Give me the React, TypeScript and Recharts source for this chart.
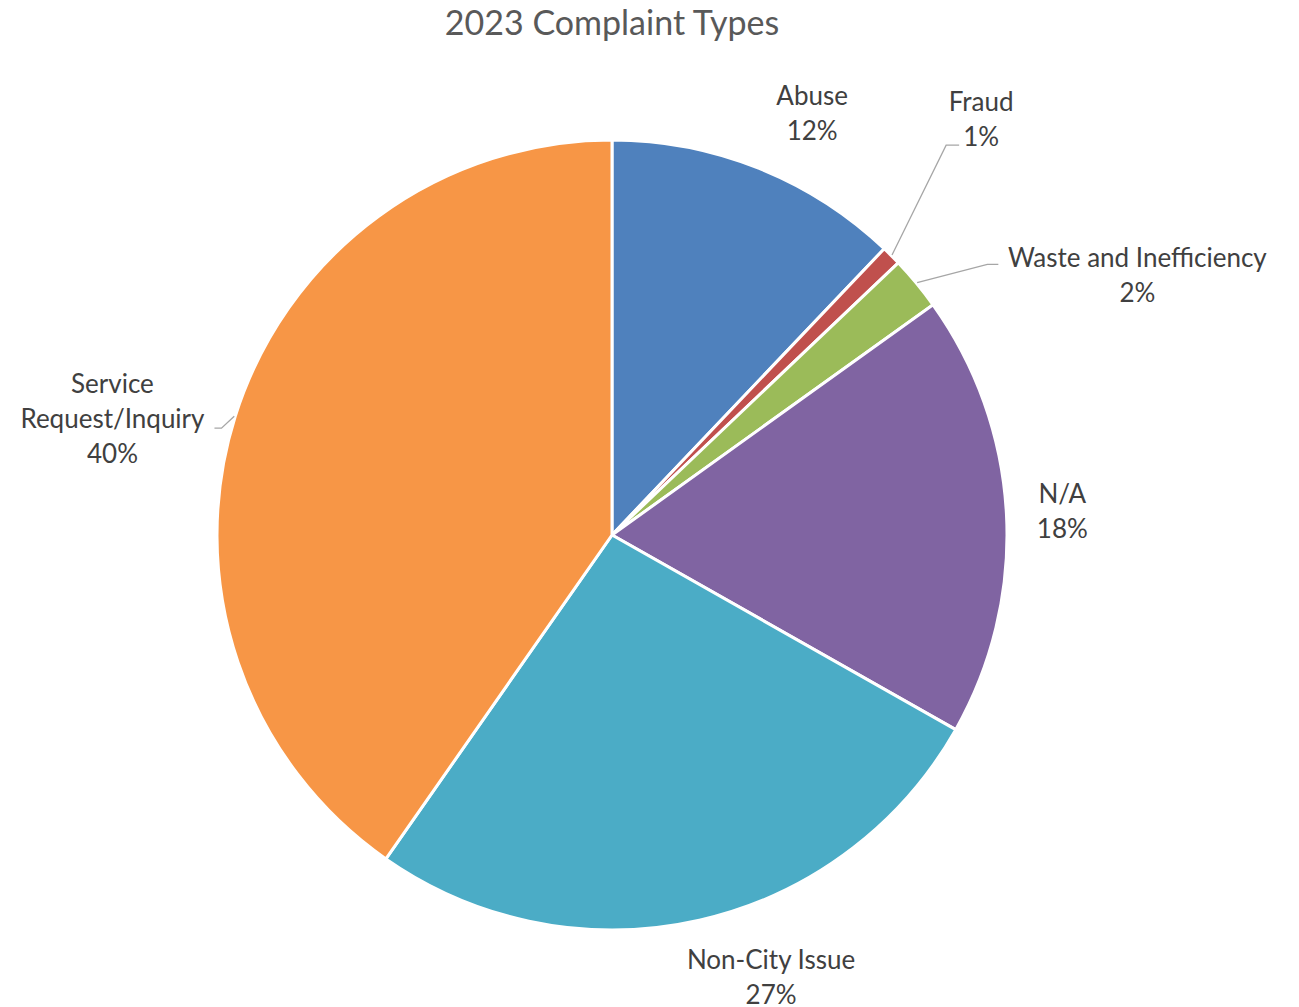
import React from "react"
import { PieChart, Pie, Cell } from "recharts"

const categories = [
  "Abuse",
  "Fraud",
  "Waste and Inefficiency",
  "N/A",
  "Non-City Issue",
  "Service Request/Inquiry",
]
const shares = [12.1, 0.8, 2.2, 18.1, 26.5, 40.3]
const percentLabels = ["12%", "1%", "2%", "18%", "27%", "40%"]
const labelLines = [
  ["Abuse"],
  ["Fraud"],
  ["Waste and Inefficiency"],
  ["N/A"],
  ["Non-City Issue"],
  ["Service", "Request/Inquiry"],
]
const sliceColors = ["#4F81BD", "#C0504D", "#9BBB59", "#8064A2", "#4BACC6", "#F79646"]

const data = categories.map((name, i) => ({
  name,
  value: shares[i],
  pct: percentLabels[i],
  lines: labelLines[i],
}))

// where each data label sits: angle shift (deg, clockwise) and distance past the rim
const labelLayout: Record<string, { shift: number; extra: number; leader?: { dx: number; dy: number; elbow: number } }> = {
  "Abuse": { shift: 3.6, extra: 72 },
  "Fraud": { shift: -3.4, extra: 161, leader: { dx: -22, dy: 26, elbow: -13 } },
  "Waste and Inefficiency": { shift: 13.3, extra: 191, leader: { dx: -139, dy: -11, elbow: -11 } },
  "N/A": { shift: 0, extra: 56 },
  "Non-City Issue": { shift: -7, extra: 75 },
  "Service Request/Inquiry": { shift: -4.3, extra: 118, leader: { dx: 102, dy: 10, elbow: 7 } },
}

const RADIAN = Math.PI / 180
const LINE_GAP = 35

const renderLabel = (props: any) => {
  const { cx, cy, midAngle, outerRadius, index } = props
  const item = data[index]
  const layout = labelLayout[item.name]
  const a = (midAngle - layout.shift) * RADIAN
  const r = outerRadius + layout.extra
  const x = cx + r * Math.cos(a)
  const y = cy - r * Math.sin(a)
  const lines = [...item.lines, item.pct]
  const top = y - ((lines.length - 1) * LINE_GAP) / 2

  let leader = null
  if (layout.leader) {
    const sx = cx + (outerRadius + 1) * Math.cos(midAngle * RADIAN)
    const sy = cy - (outerRadius + 1) * Math.sin(midAngle * RADIAN)
    const ex = x + layout.leader.dx
    const ey = y + layout.leader.dy
    const mx = ex + layout.leader.elbow
    leader = (
      <polyline
        points={`${sx},${sy} ${mx},${ey} ${ex},${ey}`}
        fill="none"
        stroke="#A6A6A6"
        strokeWidth={1.3}
      />
    )
  }

  return (
    <g key={`lbl-${index}`}>
      {leader}
      <text
        x={x}
        y={top}
        textAnchor="middle"
        fill="#404040"
        fontSize={26}
        fontFamily="Lato, 'Open Sans', sans-serif"
      >
        {lines.map((ln: string, i: number) => (
          <tspan key={i} x={x} y={top + i * LINE_GAP} dy="0.36em">
            {ln}
          </tspan>
        ))}
      </text>
    </g>
  )
}

export default function App() {
  return (
    <div style={{ position: "absolute", left: 0, top: 0, width: 1299, height: 1007, background: "#fff" }}>
      <div
        style={{
          position: "absolute",
          left: 0,
          top: 4,
          width: 1224,
          textAlign: "center",
          fontFamily: "Lato, 'Open Sans', sans-serif",
          fontSize: 34,
          lineHeight: "36px",
          color: "#595959",
        }}
      >
        2023 Complaint Types
      </div>
      <PieChart width={1299} height={1007} margin={{ top: 0, right: 0, bottom: 0, left: 0 }}>
        <Pie
          data={data}
          dataKey="value"
          nameKey="name"
          cx={612}
          cy={535}
          outerRadius={395}
          startAngle={90}
          endAngle={-270}
          stroke="#ffffff"
          strokeWidth={3}
          label={renderLabel}
          labelLine={false}
          isAnimationActive={false}
        >
          {data.map((d, i) => (
            <Cell key={d.name} fill={sliceColors[i]} />
          ))}
        </Pie>
      </PieChart>
    </div>
  )
}
